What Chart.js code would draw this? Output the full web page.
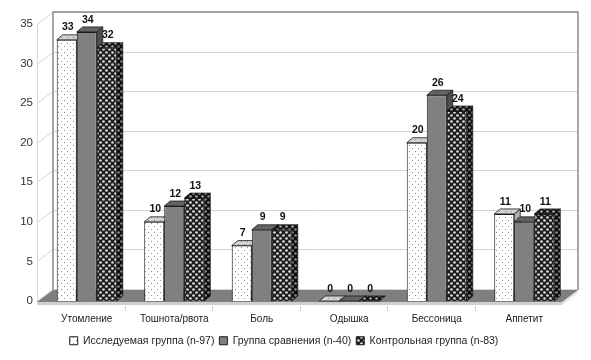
<!DOCTYPE html>
<html>
<head>
<meta charset="utf-8">
<style>
  html, body { margin: 0; padding: 0; background: #fff; }
</style>
</head>
<body>
<canvas id="myChart" width="591" height="360"></canvas>
<script src="https://cdn.jsdelivr.net/npm/chart.js"></script>
<script>
    const labels = ['Утомление', 'Тошнота/рвота', 'Боль', 'Одышка', 'Бессоница', 'Аппетит'];
    const studyGroup = [33, 10, 7, 0, 20, 11];
    const compareGroup = [34, 12, 9, 0, 26, 10];
    const controlGroup = [32, 13, 9, 0, 24, 11];
    const seriesNames = ['Исследуемая группа (n-97)', 'Группа сравнения (n-40)', 'Контрольная группа (n-83)'];
    const yMin = 0, yMax = 35, yStep = 5;

    const FONT = 'Arial, "Liberation Sans", sans-serif';
    // depth of bars and of the whole box
    const BX = 6, BY = 5;
    const DX = 16, DY = 12;

    const makePattern = (bg, draw) => {
        const c = document.createElement('canvas');
        c.width = 6; c.height = 6;
        const g = c.getContext('2d');
        g.fillStyle = bg;
        g.fillRect(0, 0, 6, 6);
        draw(g);
        return g.createPattern(c, 'repeat');
    };
    const dots = (bg, fg) => makePattern(bg, g => {
        g.fillStyle = fg;
        g.fillRect(1, 1, 1, 1);
        g.fillRect(4, 4, 1, 1);
    });
    const rings = (bg, fg) => makePattern(bg, g => {
        g.fillStyle = fg;
        [[1.5, 1.5], [4.5, 4.5], [-1.5, 4.5], [4.5, -1.5], [7.5, 4.5], [4.5, 7.5]].forEach(([cx, cy]) => {
            g.beginPath();
            g.arc(cx, cy, 1.35, 0, Math.PI * 2);
            g.fill();
        });
    });

    const faces = [
        { front: dots('#ffffff', '#8c8c8c'), top: dots('#d2d2d2', '#8c8c8c'), side: dots('#b0b0b0', '#707070') },
        { front: '#808080', top: '#636363', side: '#4e4e4e' },
        { front: rings('#1e1e1e', '#d8d8d8'), top: rings('#111111', '#a8a8a8'), side: rings('#0c0c0c', '#8a8a8a') }
    ];

    const poly = (ctx, pts, fill, stroke) => {
        ctx.beginPath();
        ctx.moveTo(pts[0][0], pts[0][1]);
        pts.slice(1).forEach(p => ctx.lineTo(p[0], p[1]));
        ctx.closePath();
        if (fill) { ctx.fillStyle = fill; ctx.fill(); }
        if (stroke) { ctx.strokeStyle = stroke; ctx.stroke(); }
    };

    const box3d = {
        id: 'box3d',
        beforeDatasetsDraw(chart) {
            const { ctx, chartArea: a, scales: { x, y } } = chart;
            const fx0 = a.left - 6, fx1 = a.right - 6;
            const y0 = y.getPixelForValue(0) + 1;
            const yTop = y.getPixelForValue(yMax);
            ctx.save();
            ctx.lineWidth = 1;

            // walls and grid
            for (let v = yMin; v <= yMax; v += yStep) {
                const py = Math.round(y.getPixelForValue(v)) + 0.5;
                ctx.strokeStyle = '#d4d4d4';
                ctx.beginPath();
                ctx.moveTo(fx0, py);
                ctx.lineTo(fx0 + DX, py - DY);
                ctx.lineTo(fx1 + DX, py - DY);
                ctx.stroke();
            }
            ctx.strokeStyle = '#d9d9d9';
            ctx.beginPath();
            ctx.moveTo(fx0 + 0.5, yTop);
            ctx.lineTo(fx0 + 0.5, y0);
            ctx.stroke();
            ctx.strokeStyle = '#8a8a8a';
            ctx.lineWidth = 1.5;
            ctx.beginPath();
            ctx.moveTo(fx0 + DX, y0 - DY);
            ctx.lineTo(fx0 + DX, yTop - DY);
            ctx.lineTo(fx1 + DX, yTop - DY);
            ctx.lineTo(fx1 + DX, y0 - DY);
            ctx.stroke();
            ctx.lineWidth = 1;

            // floor slab
            poly(ctx, [[fx0, y0], [fx1, y0], [fx1, y0 + 3], [fx0, y0 + 3]], '#cfcfcf');
            poly(ctx, [[fx1, y0], [fx1 + DX, y0 - DY], [fx1 + DX, y0 - DY + 3], [fx1, y0 + 3]], '#e6e6e6');
            poly(ctx, [[fx0, y0], [fx1, y0], [fx1 + DX, y0 - DY], [fx0 + DX, y0 - DY]], '#7f7f7f');

            // category ticks under the floor
            ctx.strokeStyle = '#d0d0d0';
            for (let i = 1; i < labels.length; i++) {
                const bx = Math.round((x.getPixelForValue(i - 1) + x.getPixelForValue(i)) / 2) - 6 + 0.5;
                ctx.beginPath();
                ctx.moveTo(bx, y0 + 4);
                ctx.lineTo(bx, y0 + 9);
                ctx.stroke();
            }

            // bar tops and sides
            ctx.lineWidth = 0.8;
            for (let i = 0; i < labels.length; i++) {
                chart.data.datasets.forEach((ds, k) => {
                    const bar = chart.getDatasetMeta(k).data[i];
                    const l = bar.x - bar.width / 2, r = bar.x + bar.width / 2;
                    const t = bar.y, b = bar.base;
                    poly(ctx, [[r, t], [r + BX, t - BY], [r + BX, b - BY], [r, b]], faces[k].side, '#1a1a1a');
                    poly(ctx, [[l, t], [l + BX, t - BY], [r + BX, t - BY], [r, t]], faces[k].top, '#1a1a1a');
                });
            }
            ctx.restore();
        },
        afterDatasetsDraw(chart) {
            const { ctx } = chart;
            ctx.save();
            ctx.font = 'bold 10.5px ' + FONT;
            ctx.fillStyle = '#111';
            ctx.textAlign = 'center';
            ctx.textBaseline = 'bottom';
            chart.data.datasets.forEach((ds, k) => {
                chart.getDatasetMeta(k).data.forEach((bar, i) => {
                    ctx.fillText(String(ds.data[i]), bar.x + 1, bar.y - BY - 2);
                });
            });
            ctx.restore();
        }
    };

    const series = [studyGroup, compareGroup, controlGroup];
    const ctx = document.getElementById('myChart').getContext('2d');
    const myChart = new Chart(ctx, {
        type: 'bar',
        data: {
            labels,
            datasets: series.map((data, k) => ({
                label: seriesNames[k],
                data,
                backgroundColor: faces[k].front,
                borderColor: '#1a1a1a',
                borderWidth: 1,
                categoryPercentage: 0.686,
                barPercentage: 1
            }))
        },
        options: {
            responsive: false,
            animation: false,
            layout: { padding: { top: 24, right: 23, left: 0, bottom: 4 } },
            scales: {
                x: {
                    grid: { display: false, drawTicks: false },
                    border: { display: false },
                    ticks: { color: '#222', font: { size: 10, family: FONT }, padding: 12, maxRotation: 0, autoSkip: false },
                    afterFit: s => { s.height = 360 - 4 - 301 - (s.chart.legend ? s.chart.legend.height : 0); }
                },
                y: {
                    min: yMin,
                    max: yMax,
                    grid: { display: false, drawTicks: false },
                    border: { display: false },
                    ticks: { stepSize: yStep, padding: 10, color: '#333', font: { size: 11.5, family: FONT } },
                    afterFit: s => { s.width = 43; }
                }
            },
            plugins: {
                legend: {
                    position: 'bottom',
                    labels: { boxWidth: 8, boxHeight: 8, padding: 5, color: '#222', font: { size: 10.5, family: FONT } }
                },
                tooltip: { enabled: false }
            }
        },
        plugins: [box3d]
    });
</script>
</body>
</html>
